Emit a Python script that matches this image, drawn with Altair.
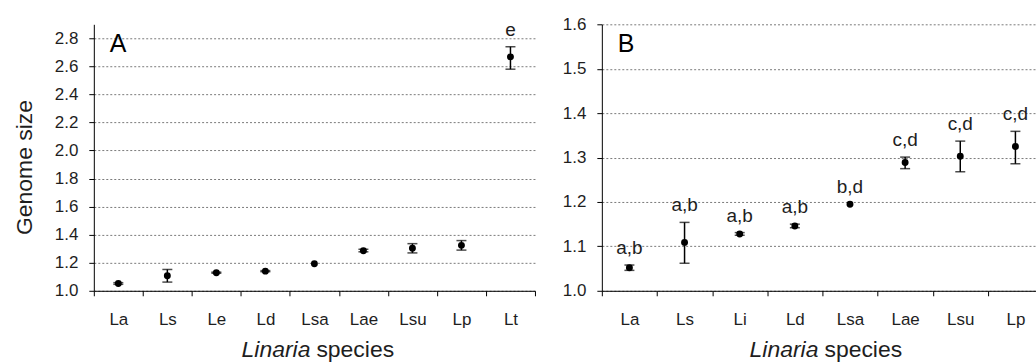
import altair as alt
import pandas as pd

# ---------------- data ----------------
cats_a = ["La", "Ls", "Le", "Ld", "Lsa", "Lae", "Lsu", "Lp", "Lt"]
mean_a = [1.052, 1.107, 1.129, 1.140, 1.193, 1.286, 1.303, 1.324, 2.668]
lo_a = [1.046, 1.062, 1.125, 1.136, 1.193, 1.278, 1.270, 1.290, 2.580]
hi_a = [1.058, 1.152, 1.133, 1.144, 1.193, 1.296, 1.336, 1.358, 2.740]
letters_a = ["", "", "", "", "", "", "", "", "e"]

cats_b = ["La", "Ls", "Li", "Ld", "Lsa", "Lae", "Lsu", "Lp"]
mean_b = [1.052, 1.109, 1.128, 1.146, 1.195, 1.289, 1.303, 1.325]
lo_b = [1.046, 1.062, 1.125, 1.142, 1.195, 1.275, 1.268, 1.286]
hi_b = [1.058, 1.154, 1.131, 1.150, 1.195, 1.301, 1.337, 1.359]
letters_b = ["a,b", "a,b", "a,b", "a,b", "b,d", "c,d", "c,d", "c,d"]

ticks_a = [1.0, 1.2, 1.4, 1.6, 1.8, 2.0, 2.2, 2.4, 2.6, 2.8]
ticks_b = [1.0, 1.1, 1.2, 1.3, 1.4, 1.5, 1.6]

W = 442
H = 267
FONT = "Liberation Sans"
TXT = "#1e1e1e"


def panel(cats, mean, lo, hi, letters, ydomain, yticks, label, show_ytitle):
    df = pd.DataFrame({"species": cats, "mean": mean, "lo": lo, "hi": hi, "letter": letters})
    xenc = alt.X(
        "species:N",
        sort=cats,
        scale=alt.Scale(type="band", domain=cats, paddingInner=0, paddingOuter=0),
        axis=alt.Axis(
            title=None,
            tickBand="extent",
            labelAngle=0,
            labelFontSize=17,
            labelPadding=16,
            tickSize=5,
            tickColor="black",
            domainColor="black",
            labelColor=TXT,
            labelFont=FONT,
            grid=False,
        ),
    )
    yaxis_kw = dict(
        values=yticks,
        tickCount=len(yticks),
        format=".1f",
        grid=True,
        gridDash=[2, 2],
        gridColor="#7a7a7a",
        gridWidth=1,
        tickSize=5,
        tickColor="black",
        domainColor="black",
        labelFontSize=17,
        labelPadding=11,
        labelColor=TXT,
        labelFont=FONT,
        labelOverlap=False,
    )
    if show_ytitle:
        yaxis_kw.update(
            title="Genome size",
            titleFontSize=23,
            titleFontWeight="normal",
            titleFont=FONT,
            titleColor=TXT,
            titleAngle=-90,
            titleX=-62,
            titleY=143,
            titleBaseline="alphabetic",
            titleAlign="center",
        )
    else:
        yaxis_kw.update(title=None)
    yscale = alt.Scale(domain=ydomain, nice=False, zero=False)

    def Y(field):
        return alt.Y(field + ":Q", scale=yscale, axis=alt.Axis(**yaxis_kw))

    base = alt.Chart(df)
    err = base.transform_filter("datum.hi > datum.lo")
    rule = err.mark_rule(color="black", strokeWidth=1.5).encode(x=xenc, y=Y("lo"), y2="hi:Q")
    cap_lo = err.mark_tick(color="black", size=10, thickness=1.5, orient="horizontal").encode(
        x=xenc, y=Y("lo")
    )
    cap_hi = err.mark_tick(color="black", size=10, thickness=1.5, orient="horizontal").encode(
        x=xenc, y=Y("hi")
    )
    pts = base.mark_circle(size=48, color="black", opacity=1).encode(x=xenc, y=Y("mean"))
    lett = base.mark_text(
        dy=-11, baseline="alphabetic", fontSize=19, color=TXT, font=FONT
    ).encode(x=xenc, y=Y("hi"), text="letter:N")
    plab = alt.Chart(pd.DataFrame({"t": [label]})).mark_text(
        align="left", baseline="alphabetic", fontSize=25, color="black", font=FONT
    ).encode(x=alt.value(16), y=alt.value(28), text="t:N")
    t1 = alt.Chart(pd.DataFrame({"t": ["Linaria"]})).mark_text(
        align="right", baseline="alphabetic", fontSize=23, fontStyle="italic", color=TXT, font=FONT
    ).encode(x=alt.value(W / 2 - 4), y=alt.value(H + 66), text="t:N")
    t2 = alt.Chart(pd.DataFrame({"t": ["species"]})).mark_text(
        align="left", baseline="alphabetic", fontSize=23, color=TXT, font=FONT
    ).encode(x=alt.value(W / 2 + 2), y=alt.value(H + 66), text="t:N")
    return alt.layer(pts, rule, cap_lo, cap_hi, lett, plab, t1, t2).properties(width=W, height=H)


pa = panel(cats_a, mean_a, lo_a, hi_a, letters_a, [1.0, 2.9], ticks_a, "A", True)
pb = panel(cats_b, mean_b, lo_b, hi_b, letters_b, [1.0, 1.6], ticks_b, "B", False)

chart = (
    alt.hconcat(pa, pb, spacing=67, bounds="flush")
    .properties(padding={"left": 13, "top": 15, "right": -8, "bottom": 0}, background="white")
    .configure_view(stroke=None)
)

chart.save("out.html", embed_options={"renderer": "svg", "actions": False})
